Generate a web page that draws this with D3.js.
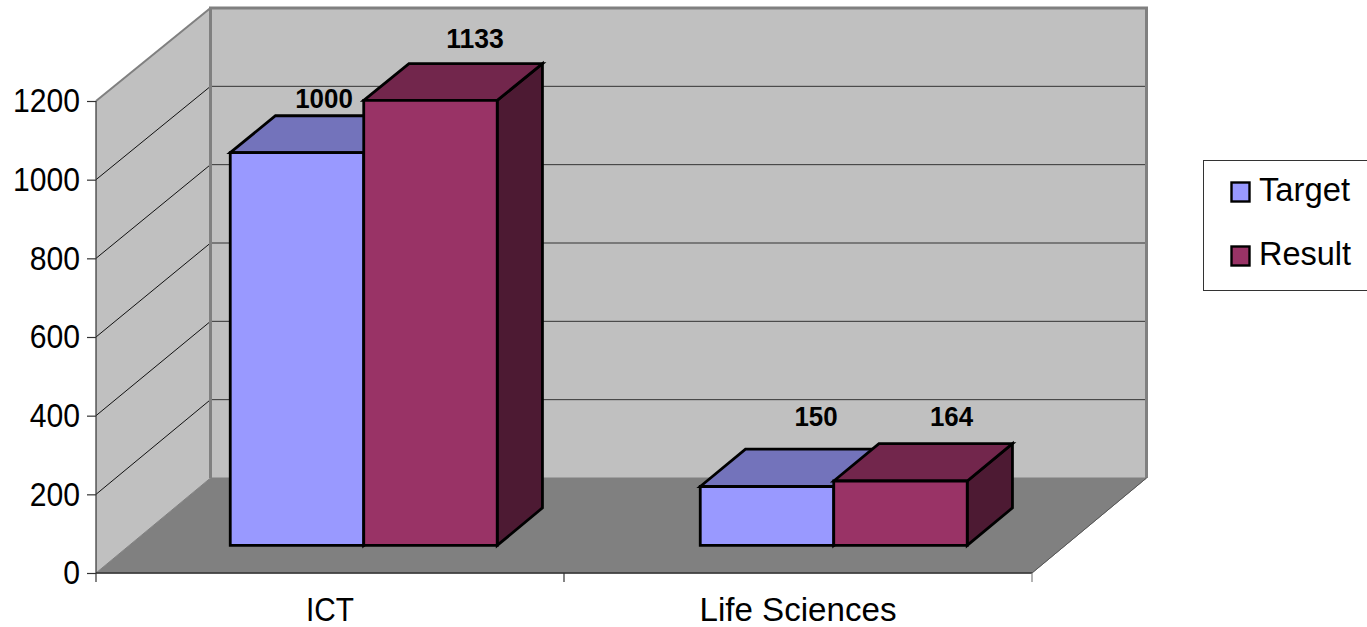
<!DOCTYPE html>
<html>
<head>
<meta charset="utf-8">
<script src="https://cdn.jsdelivr.net/npm/d3@7/dist/d3.min.js"></script>
<style>
html,body{margin:0;padding:0;background:#fff;overflow:hidden}
svg{display:block}
text{font-family:"Liberation Sans",Arial,sans-serif;fill:#000}
</style>
</head>
<body>
<svg id="chart" width="1367" height="627"></svg>
<script>
const categories = ["ICT", "Life Sciences"];
const seriesNames = ["Target", "Result"];
const target = [1000, 150];
const result = [1133, 164];
const yTicks = [0, 200, 400, 600, 800, 1000, 1200];
const seriesValues = [target, result];

const fills = [
  {front: "#9999ff", top: "#7373bb", side: "#4d4d80"},
  {front: "#993366", top: "#72264c", side: "#4d1a33"}
];
// manual data label nudges from the bar's centre, as the source chart has them
const labelDx = [[27, 44.5], [49, 51]];
const labelBaseline = [[108, 48], [426, 426]];

const svg = d3.select("#chart");
const FX0 = 96, FX1 = 1032, DX = 114.5;
const yFront = d3.scaleLinear().domain([0, 1200]).range([573, 101]);
const yBack = d3.scaleLinear().domain([0, 1200]).range([478, 8]);
const xBand = d3.scaleBand().domain(categories).range([FX0, FX1]);
const xBars = d3.scaleBand().domain(categories).range([FX0, FX0 + 940]);
const xInner = d3.scaleBand().domain(seriesNames)
  .range([0, xBars.bandwidth() * 0.568]);
const inset = xBars.bandwidth() * 0.215;

const px = (x, d) => x + d * DX;
const py = (v, d) => yFront(v) + (yBack(v) - yFront(v)) * d;
const P = (x, v, d) => [px(x, d), py(v, d)];
const poly = pts => "M" + pts.map(p => p.map(n => n.toFixed(2)).join(",")).join("L") + "Z";

// squeeze text horizontally, as the source's taller, narrower glyphs are
const squeeze = (sel, width) => sel.each(function (d, i) {
  d3.select(this).attr("textLength", width(d, i)).attr("lengthAdjust", "spacingAndGlyphs");
});

// walls and floor
svg.append("path").attr("fill", "#c0c0c0")
  .attr("d", poly([P(FX0, 0, 0), P(FX0, 0, 1), P(FX0, 1200, 1), P(FX0, 1200, 0)]));
svg.append("path").attr("fill", "#c0c0c0")
  .attr("d", poly([P(FX0, 0, 1), P(FX1, 0, 1), P(FX1, 1200, 1), P(FX0, 1200, 1)]));
svg.append("path").attr("fill", "#808080").attr("stroke", "#808080").attr("stroke-width", 1)
  .attr("d", poly([P(FX0, 0, 0), P(FX1, 0, 0), P(FX1, 0, 1), P(FX0, 0, 1)]));

// gridlines
const grid = yTicks.filter(v => v > 0 && v < 1200);
svg.append("g").selectAll("path").data(grid).join("path")
  .attr("fill", "none").attr("stroke", "#111").attr("stroke-width", 1)
  .attr("d", v => d3.line()([P(FX0, v, 0), P(FX0, v, 1)]));
svg.append("g").selectAll("path").data(grid).join("path")
  .attr("fill", "none").attr("stroke", "#333").attr("stroke-width", 1)
  .attr("d", v => d3.line()([P(FX0, v, 1), P(FX1, v, 1)]));

// wall frame
svg.append("path").attr("fill", "none").attr("stroke", "#808080").attr("stroke-width", 3)
  .attr("d", d3.line()([P(FX0, 0, 1), P(FX0, 1200, 1), P(FX1, 1200, 1), P(FX1, 0, 1)]));
svg.append("path").attr("fill", "none").attr("stroke", "#808080").attr("stroke-width", 2)
  .attr("d", d3.line()([P(FX0, 1200, 0), P(FX0, 1200, 1)]));
svg.append("path").attr("fill", "none").attr("stroke", "#555").attr("stroke-width", 1)
  .attr("d", d3.line()([P(FX1, 0, 0), P(FX1, 0, 1)]));

// axes
const yAxis = svg.append("g").attr("transform", "translate(96,0)")
  .call(d3.axisLeft(yFront).tickValues(yTicks).tickSize(9).tickPadding(7).tickFormat(d3.format("d")));
yAxis.selectAll("text").attr("font-size", 33).style("font-family", "Liberation Sans")
  .attr("dy", "0.33em").call(squeeze, d => String(d).length * 16.75);
yAxis.selectAll("line").attr("stroke", "#333").attr("stroke-width", 1.2);
yAxis.select(".domain").attr("stroke", "#333").attr("stroke-width", 1.2).attr("d", "M0,101V582");

const xLabelWidths = [48, 197];
const xAxis = svg.append("g").attr("transform", "translate(0,573)")
  .call(d3.axisBottom(xBand).tickSize(0).tickPadding(0));
xAxis.selectAll("text").attr("font-size", 33).attr("y", 48).attr("dy", 0)
  .style("font-family", "Liberation Sans").call(squeeze, (d, i) => xLabelWidths[i]);
xAxis.select(".domain").attr("stroke", "#333").attr("stroke-width", 1.5).attr("d", `M${FX0},0H${FX1}`);
svg.append("g").selectAll("line")
  .data(categories.map(c => xBand(c)).concat([FX1]).slice(1)).join("line")
  .attr("x1", d => d).attr("x2", d => d).attr("y1", 573).attr("y2", 582)
  .attr("stroke", (d, i) => i ? "#808080" : "#333").attr("stroke-width", 1.2);

// bars
const D0 = 0.29, D1 = 0.685;
const bars = svg.append("g");
categories.forEach((c, ci) => {
  seriesNames.forEach((s, si) => {
    const v = seriesValues[si][ci];
    const x0 = xBars(c) + inset + xInner(s);
    const x1 = x0 + xInner.bandwidth();
    const g = bars.append("g").attr("stroke", "#000").attr("stroke-width", 2.8).attr("stroke-linejoin", "miter");
    g.append("path").attr("fill", fills[si].side)
      .attr("d", poly([P(x1, 0, D0), P(x1, 0, D1), P(x1, v, D1), P(x1, v, D0)]));
    g.append("path").attr("fill", fills[si].top)
      .attr("d", poly([P(x0, v, D0), P(x1, v, D0), P(x1, v, D1), P(x0, v, D1)]));
    g.append("path").attr("fill", fills[si].front)
      .attr("d", poly([P(x0, 0, D0), P(x1, 0, D0), P(x1, v, D0), P(x0, v, D0)]));
  });
});

// data labels
categories.forEach((c, ci) => {
  seriesNames.forEach((s, si) => {
    const x0 = xBars(c) + inset + xInner(s);
    const label = String(seriesValues[si][ci]);
    svg.append("text")
      .attr("x", px(x0 + xInner.bandwidth() / 2, D0) + labelDx[ci][si])
      .attr("y", labelBaseline[ci][si])
      .attr("text-anchor", "middle").attr("font-size", 27).attr("font-weight", "bold")
      .attr("textLength", label.length * 14.4).attr("lengthAdjust", "spacingAndGlyphs")
      .text(label);
  });
});

// legend
const legend = svg.append("g");
legend.append("rect").attr("x", 1203.5).attr("y", 160.5).attr("width", 170).attr("height", 130)
  .attr("fill", "#fff").attr("stroke", "#333").attr("stroke-width", 1);
const legendY = d3.scalePoint().domain(seriesNames).range([192, 256]);
const legendWidths = [91, 92];
seriesNames.forEach((s, si) => {
  legend.append("rect").attr("x", 1231.5).attr("y", legendY(s) - 9.5).attr("width", 18).attr("height", 19)
    .attr("fill", fills[si].front).attr("stroke", "#000").attr("stroke-width", 2.4);
  legend.append("text").attr("x", 1259).attr("y", legendY(s) + 9).attr("font-size", 34)
    .attr("textLength", legendWidths[si]).attr("lengthAdjust", "spacingAndGlyphs").text(s);
});
</script>
</body>
</html>
